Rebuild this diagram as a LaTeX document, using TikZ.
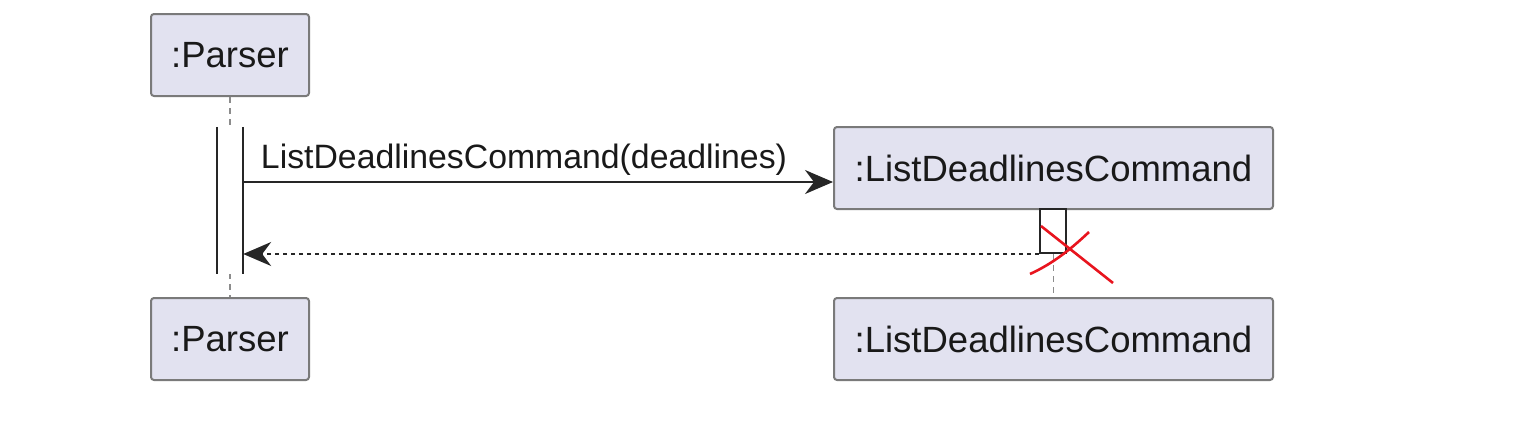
\documentclass[tikz,border=0pt]{standalone}
\usepackage{fontspec}
\setmainfont{Liberation Sans}
\usetikzlibrary{arrows.meta,calc}
\definecolor{boxfill}{HTML}{E2E2F0}
\definecolor{boxline}{HTML}{7A7A7A}
\definecolor{lifeline}{HTML}{8C8C8C}
\definecolor{xred}{HTML}{E8141E}
\tikzset{
  participant/.style={draw=boxline, line width=2pt, fill=boxfill, rounded corners=3pt,
    minimum width=158pt, minimum height=82pt, inner sep=0pt,
    font=\fontsize{36.5}{40}\selectfont, text=black!90},
  widebox/.style={participant, minimum width=439pt},
  lline/.style={draw=lifeline, line width=1.6pt, dash pattern=on 6pt off 5pt},
  actbar/.style={fill=white, draw=none, minimum width=26pt, inner sep=0pt},
  actbox/.style={fill=white, draw=black!85, line width=2pt, minimum width=26pt, inner sep=0pt},
  msg/.style={draw=black!85, line width=2pt, -{Stealth[length=28pt,width=24pt,inset=9pt]}},
  ret/.style={draw=black!85, line width=1.5pt, dash pattern=on 4.5pt off 3.5pt, -{Stealth[length=28pt,width=24pt,inset=9pt]}},
  lbl/.style={font=\fontsize{33.8}{38}\selectfont, text=black!90, inner sep=0pt},
  xline/.style={draw=xred, line width=2.6pt}
}
\begin{document}
\begin{tikzpicture}[x=1pt,y=-1pt]
\useasboundingbox (0,0) rectangle (1539,442);
% participants
\node[participant] (pTop) at (230,55) {:Parser};
\node[participant] (pBot) at (230,339) {:Parser};
\node[widebox] (cTop) at (1053.5,168) {:ListDeadlinesCommand};
\node[widebox] (cBot) at (1053.5,339) {:ListDeadlinesCommand};
% lifelines
\draw[lline] (pTop.south) -- (pBot.north);
\draw[lline] (cTop.south) -- (cBot.north);
% activations
\node[actbar, minimum height=147pt] (act1) at (230,200.5) {};
\draw[black!85, line width=2pt] (act1.north west) -- (act1.south west);
\draw[black!85, line width=2pt] (act1.north east) -- (act1.south east);
\node[actbox, minimum height=44pt] (act2) at (1053,231) {};
% messages
\coordinate (m1s) at (243,182);
\draw[msg] (m1s) -- (m1s -| cTop.west);
\node[lbl, anchor=base] (m1l) at (524,168) {ListDeadlinesCommand(deadlines)};
\draw[ret] (act2.south west) -- (act2.south west -| act1.east);
% destroy mark
\draw[xline] (1041,226) -- (1113,283);
\draw[xline] (1030,274) .. controls (1052,264) and (1070,250) .. (1089,232);
\end{tikzpicture}
\end{document}
